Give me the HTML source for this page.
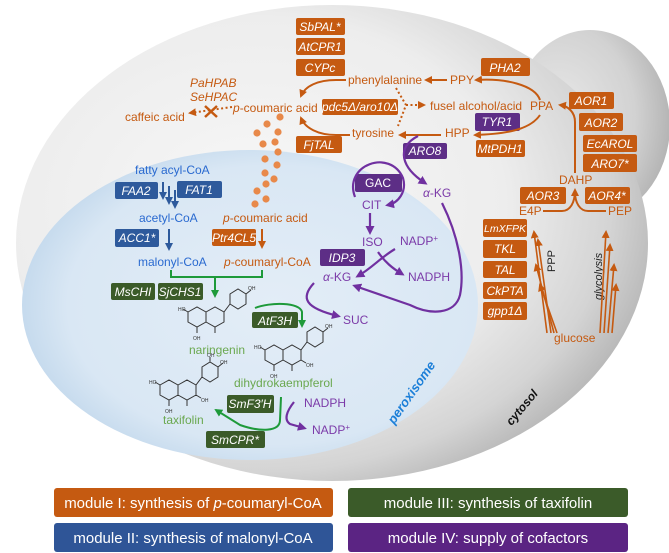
<!DOCTYPE html>
<html><head><meta charset="utf-8"><style>
body{margin:0;background:#fff}
svg{display:block}
text{font-family:"Liberation Sans",Arial,sans-serif}
.o{fill:#c55a11;font-size:12px}
.b{fill:#2a6ad0;font-size:12px}
.p{fill:#7b3aa8;font-size:12px}
.g{fill:#6aa84f;font-size:12px}
.bt{fill:#fff;font-size:12px;font-style:italic;text-anchor:middle}
.bn{fill:#fff;font-size:12px;text-anchor:middle}
.lg{fill:#fff;font-size:15px;text-anchor:middle}
.s{fill:#333;font-size:5px}
</style></head><body>
<svg width="669" height="553" viewBox="0 0 669 553" xmlns="http://www.w3.org/2000/svg">
<defs>
<radialGradient id="cell" cx="0.38" cy="0.42" r="0.66">
<stop offset="0" stop-color="#f7f7f7"/><stop offset="0.6" stop-color="#ededed"/><stop offset="0.85" stop-color="#d4d4d4"/><stop offset="1" stop-color="#b4b4b4"/></radialGradient>
<radialGradient id="bud" cx="0.3" cy="0.45" r="0.8">
<stop offset="0" stop-color="#e8e8e8"/><stop offset="0.6" stop-color="#d2d2d2"/><stop offset="1" stop-color="#a8a8a8"/></radialGradient>
<radialGradient id="per" cx="0.55" cy="0.5" r="0.6">
<stop offset="0" stop-color="#e3edf7"/><stop offset="0.75" stop-color="#d9e7f4"/><stop offset="1" stop-color="#bcd4ea"/></radialGradient>
<marker id="ao" markerWidth="8" markerHeight="8" refX="6" refY="4" orient="auto" markerUnits="userSpaceOnUse"><path d="M0,0 L8,4 L0,8 z" fill="#c55a11"/></marker>
<marker id="ab" markerWidth="8" markerHeight="8" refX="6" refY="4" orient="auto" markerUnits="userSpaceOnUse"><path d="M0,0 L8,4 L0,8 z" fill="#2e5a9c"/></marker>
<marker id="ag" markerWidth="8" markerHeight="8" refX="6" refY="4" orient="auto" markerUnits="userSpaceOnUse"><path d="M0,0 L8,4 L0,8 z" fill="#1e9a3a"/></marker>
<marker id="ap" markerWidth="9" markerHeight="9" refX="6" refY="4.5" orient="auto" markerUnits="userSpaceOnUse"><path d="M0,0 L9,4.5 L0,9 z" fill="#7030a0"/></marker>
</defs>

<!-- cell -->
<ellipse cx="590" cy="125" rx="80" ry="95" fill="url(#bud)"/>
<ellipse cx="332" cy="243" rx="316" ry="238" fill="url(#cell)"/>
<ellipse cx="250" cy="305" rx="228" ry="155" fill="url(#per)"/>

<!-- orange dots -->
<g fill="#e8894a">
<circle cx="280" cy="117" r="3.6"/><circle cx="267" cy="124" r="3.6"/><circle cx="257" cy="133" r="3.6"/><circle cx="278" cy="132" r="3.6"/><circle cx="263" cy="144" r="3.6"/><circle cx="275" cy="142" r="3.6"/><circle cx="278" cy="152" r="3.6"/><circle cx="265" cy="159" r="3.6"/><circle cx="277" cy="165" r="3.6"/><circle cx="265" cy="173" r="3.6"/><circle cx="274" cy="179" r="3.6"/><circle cx="266" cy="184" r="3.6"/><circle cx="257" cy="191" r="3.6"/><circle cx="266" cy="199" r="3.6"/><circle cx="255" cy="204" r="3.6"/>
</g>

<!-- orange boxes -->
<g fill="#c55a11">
<rect x="296" y="18" width="49" height="17" rx="2"/>
<rect x="296" y="38" width="49" height="17" rx="2"/>
<rect x="296" y="59" width="49" height="17" rx="2"/>
<rect x="322" y="99" width="76" height="16" rx="2"/>
<rect x="296" y="136" width="46" height="17" rx="2"/>
<rect x="481" y="58" width="49" height="18" rx="2"/>
<rect x="476" y="140" width="49" height="17" rx="2"/>
<rect x="569" y="92" width="45" height="17" rx="2"/>
<rect x="579" y="113" width="44" height="18" rx="2"/>
<rect x="583" y="135" width="54" height="17" rx="2"/>
<rect x="583" y="154" width="54" height="18" rx="2"/>
<rect x="520" y="187" width="46" height="17" rx="2"/>
<rect x="585" y="187" width="45" height="17" rx="2"/>
<rect x="483" y="219" width="44" height="18" rx="2"/>
<rect x="483" y="240" width="44" height="18" rx="2"/>
<rect x="483" y="261" width="44" height="17" rx="2"/>
<rect x="483" y="282" width="44" height="17" rx="2"/>
<rect x="483" y="302" width="44" height="18" rx="2"/>
<rect x="212" y="229" width="44" height="17" rx="2"/>
</g>
<text class="bt" x="320" y="31">SbPAL*</text>
<text class="bt" x="320" y="51">AtCPR1</text>
<text class="bt" x="320" y="72">CYPc</text>
<text class="bt" x="360" y="111">pdc5Δ/aro10Δ</text>
<text class="bt" x="319" y="149">FjTAL</text>
<text class="bt" x="505" y="72">PHA2</text>
<text class="bt" x="500" y="153">MtPDH1</text>
<text class="bt" x="591" y="105">AOR1</text>
<text class="bt" x="601" y="127">AOR2</text>
<text class="bt" x="610" y="148">EcAROL</text>
<text class="bt" x="610" y="168">ARO7*</text>
<text class="bt" x="543" y="200">AOR3</text>
<text class="bt" x="607" y="200">AOR4*</text>
<text class="bt" x="505" y="232" style="font-size:10.5px">LmXFPK</text>
<text class="bt" x="505" y="253">TKL</text>
<text class="bt" x="505" y="274">TAL</text>
<text class="bt" x="505" y="295">CkPTA</text>
<text class="bt" x="505" y="315">gpp1Δ</text>
<text class="bt" x="234" y="242">Ptr4CL5</text>

<!-- purple boxes -->
<g fill="#5d2e86">
<rect x="475" y="113" width="45" height="18" rx="2"/>
<rect x="403" y="143" width="44" height="16" rx="2"/>
<rect x="355" y="174" width="47" height="18" rx="2"/>
<rect x="320" y="249" width="45" height="17" rx="2"/>
</g>
<text class="bt" x="497" y="126">TYR1</text>
<text class="bt" x="425" y="155">ARO8</text>
<text class="bn" x="378" y="187">GAC</text>
<text class="bt" x="342" y="262">IDP3</text>

<!-- blue boxes -->
<g fill="#2e5a9c">
<rect x="115" y="182" width="43" height="17" rx="2"/>
<rect x="177" y="181" width="45" height="17" rx="2"/>
<rect x="115" y="229" width="44" height="18" rx="2"/>
</g>
<text class="bt" x="136" y="195">FAA2</text>
<text class="bt" x="199" y="194">FAT1</text>
<text class="bt" x="137" y="242">ACC1*</text>

<!-- green boxes -->
<g fill="#3b5b29">
<rect x="111" y="283" width="44" height="17" rx="2"/>
<rect x="158" y="283" width="45" height="17" rx="2"/>
<rect x="252" y="312" width="46" height="16" rx="2"/>
<rect x="227" y="395" width="47" height="18" rx="2"/>
<rect x="206" y="431" width="59" height="17" rx="2"/>
</g>
<text class="bt" x="133" y="296">MsCHI</text>
<text class="bt" x="180" y="296">SjCHS1</text>
<text class="bt" x="275" y="325">AtF3H</text>
<text class="bt" x="250" y="408">SmF3′H</text>
<text class="bt" x="235" y="444">SmCPR*</text>

<!-- orange labels -->
<text class="o" x="348" y="84">phenylalanine</text>
<text class="o" x="450" y="84">PPY</text>
<text class="o" x="430" y="110">fusel alcohol/acid</text>
<text class="o" x="530" y="110">PPA</text>
<text class="o" x="352" y="137">tyrosine</text>
<text class="o" x="445" y="137">HPP</text>
<text class="o" x="559" y="184">DAHP</text>
<text class="o" x="519" y="215">E4P</text>
<text class="o" x="608" y="215">PEP</text>
<text class="o" x="554" y="342">glucose</text>
<text class="o" x="233" y="112"><tspan font-style="italic">p</tspan>-coumaric acid</text>
<text class="o" x="125" y="121">caffeic acid</text>
<text class="o" x="190" y="87" font-style="italic">PaHPAB</text>
<text class="o" x="190" y="101" font-style="italic">SeHPAC</text>
<text class="o" x="223" y="222"><tspan font-style="italic">p</tspan>-coumaric acid</text>
<text class="o" x="224" y="266"><tspan font-style="italic">p</tspan>-coumaryl-CoA</text>
<text x="555" y="272" transform="rotate(-90 555 272)" style="font-size:11px;fill:#222">PPP</text>
<text x="602" y="300" transform="rotate(-90 602 300)" style="font-size:11px;fill:#222;font-style:italic">glycolysis</text>

<!-- blue labels -->
<text class="b" x="135" y="174">fatty acyl-CoA</text>
<text class="b" x="139" y="222">acetyl-CoA</text>
<text class="b" x="138" y="266">malonyl-CoA</text>

<!-- purple labels -->
<text class="p" x="423" y="197"><tspan font-style="italic">α</tspan>-KG</text>
<text class="p" x="362" y="209">CIT</text>
<text class="p" x="362" y="246">ISO</text>
<text class="p" x="400" y="245">NADP<tspan font-size="8" dy="-4">+</tspan></text>
<text class="p" x="323" y="281"><tspan font-style="italic">α</tspan>-KG</text>
<text class="p" x="408" y="281">NADPH</text>
<text class="p" x="343" y="324">SUC</text>
<text class="p" x="304" y="407">NADPH</text>
<text class="p" x="312" y="434">NADP<tspan font-size="8" dy="-4">+</tspan></text>

<!-- green labels -->
<text class="g" x="189" y="354">naringenin</text>
<text class="g" x="234" y="387">dihydrokaempferol</text>
<text class="g" x="163" y="424">taxifolin</text>

<text x="415" y="395" transform="rotate(-55 415 395)" text-anchor="middle" style="font-size:13px;font-weight:bold;font-style:italic;fill:#1c7fd8">peroxisome</text>
<text x="525" y="410" transform="rotate(-50 525 410)" text-anchor="middle" style="font-size:12px;font-weight:bold;font-style:italic;fill:#111">cytosol</text>

<!-- orange arrows -->
<g stroke="#c55a11" stroke-width="2" fill="none">
<path d="M447 80 L426 80" marker-end="url(#ao)"/>
<path d="M540 100 C535 85 505 78 476 80" marker-end="url(#ao)"/>
<path d="M540 115 C530 130 505 134 475 135" marker-end="url(#ao)"/>
<path d="M441 135 L400 135" marker-end="url(#ao)"/>
<path d="M575 173 L575 122 C575 112 568 106 560 105" marker-end="url(#ao)"/>
<path d="M543 211 L562 211 C570 211 575 203 575 190" marker-end="url(#ao)"/>
<path d="M606 211 L588 211 C580 211 575 203 575 192"/>
<path d="M346 80 L336 80 C318 80 305 86 301 96" marker-end="url(#ao)"/>
<path d="M350 135 L336 135 C318 135 305 128 301 118" marker-end="url(#ao)"/>
<path d="M262 229 L262 247" marker-end="url(#ao)"/>
<path d="M547 333 L534 232" marker-end="url(#ao)" stroke-width="1.6"/>
<path d="M551 333 L538 240" marker-end="url(#ao)" stroke-width="1.6"/>
<path d="M554 333 L536 265" marker-end="url(#ao)" stroke-width="1.6"/>
<path d="M557 333 L540 285" marker-end="url(#ao)" stroke-width="1.6"/>
<path d="M600 333 L606 232" marker-end="url(#ao)" stroke-width="1.6"/>
<path d="M604 333 L610 245" marker-end="url(#ao)" stroke-width="1.6"/>
<path d="M608 333 L614 265" marker-end="url(#ao)" stroke-width="1.6"/>
<path d="M612 333 L616 285" marker-end="url(#ao)" stroke-width="1.6"/>
</g>
<g stroke="#c55a11" stroke-width="2" fill="none" stroke-dasharray="2 2.5">
<path d="M232 107 L190 113" marker-end="url(#ao)"/>
<path d="M396 88 L406 105 L398 126"/>
<path d="M406 105 L424 105" marker-end="url(#ao)"/>
</g>
<path d="M205 106 L217 117 M217 106 L205 117" stroke="#c55a11" stroke-width="2.5"/>

<!-- blue arrows -->
<g stroke="#2e5a9c" stroke-width="2" fill="none">
<path d="M163 182 L163 198" marker-end="url(#ab)"/>
<path d="M169 186 L169 203" marker-end="url(#ab)"/>
<path d="M175 190 L175 207" marker-end="url(#ab)"/>
<path d="M169 229 L169 249" marker-end="url(#ab)"/>
</g>

<!-- green arrows -->
<g stroke="#1e9a3a" stroke-width="2" fill="none">
<path d="M171 270 L171 277 L262 277 L262 270"/>
<path d="M215 277 L215 296" marker-end="url(#ag)"/>
<path d="M255 308 C270 302 300 302 302 312 L302 326" marker-end="url(#ag)"/>
<path d="M281 397 L280 420 C280 432 260 432 240 425 L216 410" marker-end="url(#ag)"/>
</g>

<!-- purple arrows -->
<g stroke="#7030a0" stroke-width="2.2" fill="none">
<path d="M355 197 C343 165 390 148 403 178 C407 192 398 203 388 205" marker-end="url(#ap)"/>
<path d="M418 136 C395 148 402 168 425 183" marker-end="url(#ap)"/>
<path d="M370 213 L370 232" marker-end="url(#ap)"/>
<path d="M395 249 C380 258 372 268 358 276" marker-end="url(#ap)"/>
<path d="M378 252 C385 262 392 268 402 274" marker-end="url(#ap)"/>
<path d="M442 203 C458 235 465 270 460 295 C455 315 430 315 410 305 L355 286" marker-end="url(#ap)"/>
<path d="M314 283 C300 298 305 308 338 316" marker-end="url(#ap)"/>
<path d="M294 402 C286 412 284 420 290 424 L304 428" marker-end="url(#ap)"/>
</g>

<!-- molecules -->
<g stroke="#333" stroke-width="1" fill="none">
<path d="M188 312 l9 -5 l9 5 l0 10 l-9 5 l-9 -5 z M206 312 l9 -5 l9 5 l0 10 l-9 5 l-9 -5 M224 312 l6 -8 M230 304 l0 -10 l8 -5 l8 5 l0 10 l-8 5 l-8 -5 M246 294 l5 -4 M215 327 l0 6 M197 327 l0 6 M188 312 l-5 -3"/>
<path d="M265 350 l9 -5 l9 5 l0 10 l-9 5 l-9 -5 z M283 350 l9 -5 l9 5 l0 10 l-9 5 l-9 -5 M301 350 l6 -8 M307 342 l0 -10 l8 -5 l8 5 l0 10 l-8 5 l-8 -5 M323 332 l5 -4 M292 365 l0 6 M274 365 l0 6 M265 350 l-5 -3 M301 360 l5 3"/>
<path d="M160 385 l9 -5 l9 5 l0 10 l-9 5 l-9 -5 z M178 385 l9 -5 l9 5 l0 10 l-9 5 l-9 -5 M196 385 l6 -8 M202 377 l0 -10 l8 -5 l8 5 l0 10 l-8 5 l-8 -5 M218 367 l5 -4 M210 362 l0 -5 M187 400 l0 6 M169 400 l0 6 M160 385 l-5 -3 M196 395 l5 3"/>
</g>
<g class="s">
<text x="178" y="311" class="s">HO</text><text x="248" y="290" class="s">OH</text><text x="193" y="340" class="s">OH</text>
<text x="254" y="349" class="s">HO</text><text x="325" y="328" class="s">OH</text><text x="270" y="378" class="s">OH</text><text x="306" y="367" class="s">OH</text>
<text x="149" y="384" class="s">HO</text><text x="220" y="364" class="s">OH</text><text x="207" y="357" class="s">OH</text><text x="165" y="413" class="s">OH</text><text x="201" y="402" class="s">OH</text>
</g>

<!-- legend -->
<rect x="54" y="488" width="279" height="29" rx="3" fill="#c55a11"/>
<rect x="348" y="488" width="280" height="29" rx="3" fill="#3b5b29"/>
<rect x="54" y="523" width="279" height="29" rx="3" fill="#2f5597"/>
<rect x="348" y="523" width="280" height="29" rx="3" fill="#5b2483"/>
<text class="lg" x="193" y="508">module I: synthesis of <tspan font-style="italic">p</tspan>-coumaryl-CoA</text>
<text class="lg" x="488" y="508">module III: synthesis of taxifolin</text>
<text class="lg" x="193" y="543">module II: synthesis of malonyl-CoA</text>
<text class="lg" x="488" y="543">module IV: supply of cofactors</text>
</svg>
</body></html>
